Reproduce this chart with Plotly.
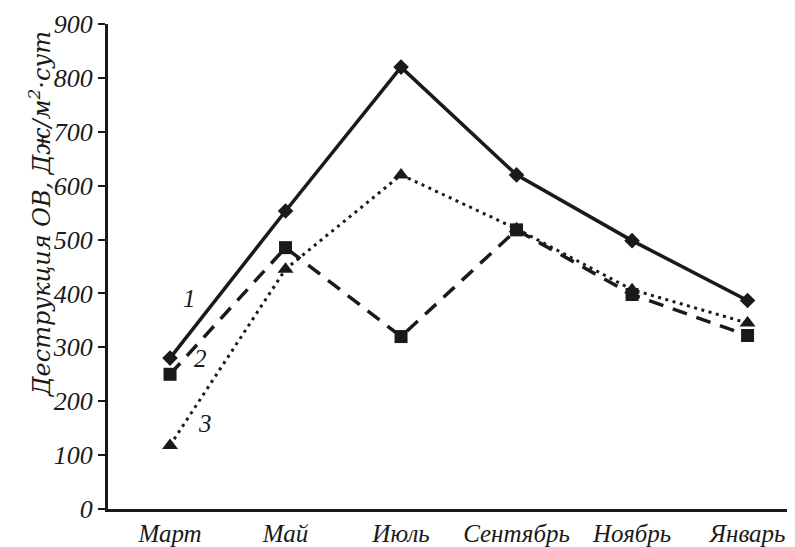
import plotly.graph_objects as go

months = ["Март", "Май", "Июль", "Сентябрь", "Ноябрь", "Январь"]
series1 = [280, 553, 820, 620, 498, 387]
series2 = [250, 485, 320, 518, 398, 322]
series3 = [118, 445, 620, 520, 407, 345]
yticks = [0, 100, 200, 300, 400, 500, 600, 700, 800, 900]
y_title = "Деструкция ОВ, Дж/м<sup>2</sup>·сут"

FONT = "Liberation Serif"
TFONT = "DejaVu Serif"
C = "#1a1a1a"
x = list(range(len(months)))

fig = go.Figure()
fig.add_trace(go.Scatter(x=x, y=series1, mode="lines+markers",
                         line=dict(color=C, width=3.5),
                         marker=dict(symbol="diamond", size=12, color=C)))
fig.add_trace(go.Scatter(x=x, y=series2, mode="lines+markers",
                         line=dict(color=C, width=3.5, dash="15px,10px"),
                         marker=dict(symbol="square", size=13, color=C)))
fig.add_trace(go.Scatter(x=x, y=series3, mode="lines+markers",
                         line=dict(color=C, width=3, dash="3px,4.5px"),
                         marker=dict(symbol="triangle-up", size=14, color=C)))

for txt, ax, ay in [("1", 0.17, 391), ("2", 0.26, 280), ("3", 0.30, 158)]:
    fig.add_annotation(x=ax, y=ay, text=txt, showarrow=False,
                       font=dict(family=FONT, size=25, color=C, style="italic"))

fig.add_annotation(xref="paper", yref="paper", x=-0.098, y=0.608,
                   xanchor="center", yanchor="middle", textangle=-90,
                   text=y_title, showarrow=False,
                   font=dict(family=TFONT, size=24, color=C, style="italic"))

fig.update_layout(
    width=795, height=547,
    margin=dict(l=100, r=0, t=16, b=46),
    paper_bgcolor="white", plot_bgcolor="white",
    showlegend=False,
    font=dict(family=FONT, color=C),
)
fig.update_xaxes(range=[-0.537, 5.48], tickmode="array", tickvals=x, ticktext=months,
                 showgrid=False, zeroline=False, showline=True, linecolor=C, linewidth=3,
                 ticks="", tickfont=dict(family=FONT, size=25, color=C, style="italic"))
fig.update_yaxes(range=[0, 900], tickmode="array", tickvals=yticks,
                 showgrid=False, zeroline=False, showline=True, linecolor=C, linewidth=3,
                 ticks="outside", ticklen=7, tickwidth=2, tickcolor=C,
                 tickfont=dict(family=FONT, size=26, color=C, style="italic"))

fig.write_html("out.html")
